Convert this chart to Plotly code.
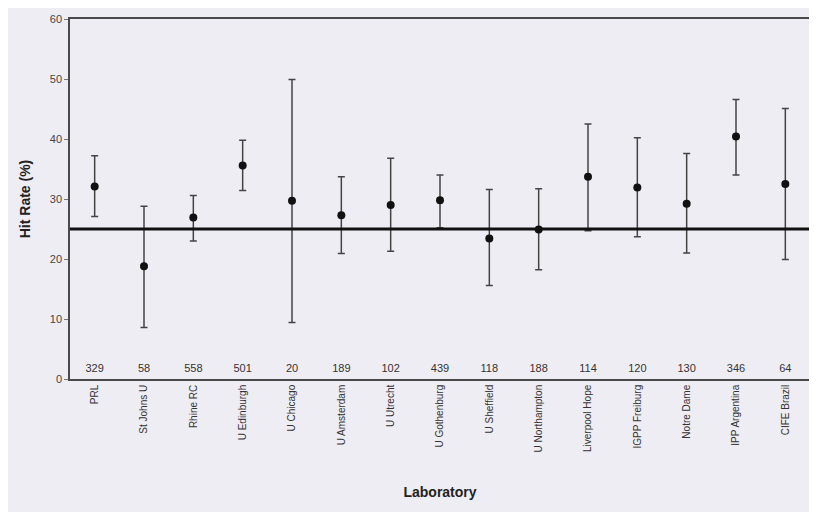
import plotly.graph_objects as go

labs = ["PRL", "St Johns U", "Rhine RC", "U Edinburgh", "U Chicago", "U Amsterdam",
        "U Utrecht", "U Gothenburg", "U Sheffield", "U Northampton", "Liverpool Hope",
        "IGPP Freiburg", "Notre Dame", "IPP Argentina", "CIFE Brazil"]
hit = [32.1, 18.8, 26.9, 35.6, 29.7, 27.3, 29.0, 29.8, 23.4, 24.9, 33.7, 31.9, 29.2, 40.4, 32.5]
upper = [37.2, 28.8, 30.6, 39.8, 49.9, 33.7, 36.8, 34.0, 31.6, 31.7, 42.5, 40.2, 37.6, 46.6, 45.1]
lower = [27.1, 8.6, 23.0, 31.4, 9.4, 20.9, 21.3, 25.2, 15.6, 18.2, 24.7, 23.7, 21.0, 34.0, 19.9]
counts = [329, 58, 558, 501, 20, 189, 102, 439, 118, 188, 114, 120, 130, 346, 64]
chance = 25
count_y = 1.6

err_plus = [u - h for u, h in zip(upper, hit)]
err_minus = [h - l for h, l in zip(hit, lower)]

fig = go.Figure()
fig.add_trace(go.Scatter(
    x=labs, y=hit, mode="markers",
    marker=dict(color="#111111", size=8),
    error_y=dict(type="data", symmetric=False, array=err_plus, arrayminus=err_minus,
                 color="#444444", thickness=1.5, width=3.5),
    showlegend=False, hoverinfo="skip"))
fig.add_trace(go.Scatter(
    x=labs, y=[count_y] * len(labs), mode="text",
    text=[str(c) for c in counts],
    textfont=dict(family="Liberation Sans, Arial", size=11, color="#333333"),
    showlegend=False, hoverinfo="skip"))
fig.add_shape(type="line", xref="paper", x0=0, x1=1, yref="y", y0=chance, y1=chance,
              line=dict(color="#111111", width=3))

fig.update_layout(
    width=809, height=504,
    margin=dict(l=62, r=5, t=7, b=133),
    paper_bgcolor="#efedf4", plot_bgcolor="#efedf4",
    font=dict(family="Liberation Sans, Arial", color="#333333"),
    xaxis=dict(type="category", range=[-0.5, 14.5], tickangle=-90,
               tickfont=dict(size=10, color="#333333"),
               showline=True, linecolor="#4a4a4a", linewidth=1.5, mirror=True,
               showgrid=False, ticks="",
               title=dict(text="<b>Laboratory</b>", font=dict(size=14, color="#222222"), standoff=36)),
    yaxis=dict(range=[0, 60], dtick=10, tickfont=dict(size=11, color="#444444"),
               showline=True, linecolor="#4a4a4a", linewidth=1.5, mirror=True,
               showgrid=False, zeroline=False, ticks="outside", ticklen=4, tickcolor="#777777",
               title=dict(text="<b>Hit Rate (%)</b>", font=dict(size=14, color="#222222"), standoff=16)),
)
fig.write_html("out.html")
